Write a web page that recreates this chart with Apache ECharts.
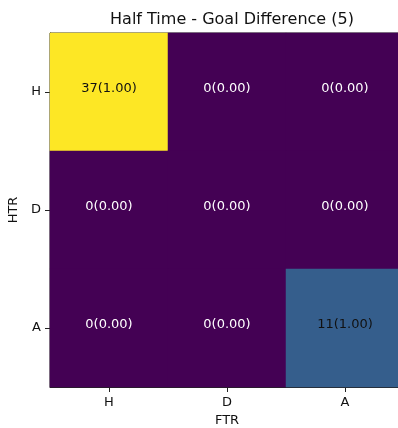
<!DOCTYPE html>
<html><head><meta charset="utf-8">
<script src="https://cdn.jsdelivr.net/npm/echarts@6/dist/echarts.min.js"></script>
<style>html,body{margin:0;padding:0;background:#fff}#c{width:398px;height:428px}</style>
</head><body><div id="c"></div>
<script>
const xCategories = ['H', 'D', 'A'];
const yCategories = ['H', 'D', 'A'];
// counts[row][col]: row = HTR, col = FTR
const counts = [
  [37, 0, 0],
  [0, 0, 0],
  [0, 0, 11]
];
const fractions = [
  [1.00, 0.00, 0.00],
  [0.00, 0.00, 0.00],
  [0.00, 0.00, 1.00]
];
const viridis = ['#440154','#482878','#3e4989','#31688e','#26828e','#1f9e89','#35b779','#6ece58','#b5de2b','#fde725'];

const data = [];
for (let r = 0; r < yCategories.length; r++) {
  for (let c = 0; c < xCategories.length; c++) {
    data.push({
      value: [c, r, counts[r][c]],
      label: { color: counts[r][c] > 37 / 4 ? '#111' : '#fff' },
      frac: fractions[r][c]
    });
  }
}
const font = 'DejaVu Sans';
const chart = echarts.init(document.getElementById('c'), null, { renderer: 'canvas' });
chart.setOption({
  animation: false,
  backgroundColor: '#fff',
  title: {
    text: 'Half Time - Goal Difference (5)',
    left: 227, top: 7, textAlign: 'center',
    textStyle: { fontFamily: font, fontSize: 16, fontWeight: 'normal', color: '#111' }
  },
  grid: { left: 50, top: 33, width: 354, height: 354, show: true, borderColor: '#222', borderWidth: 1,
          backgroundColor: 'transparent', containLabel: false, outerBoundsMode: 'none' },
  xAxis: {
    type: 'category', data: xCategories, position: 'bottom',
    name: 'FTR', nameLocation: 'middle', nameGap: 27,
    nameTextStyle: { fontFamily: font, fontSize: 13, color: '#111' },
    axisLine: { show: true, lineStyle: { color: '#222', width: 1 } },
    axisTick: { show: true, alignWithLabel: true, length: 5, lineStyle: { color: '#222' } },
    axisLabel: { fontFamily: font, fontSize: 13, color: '#111', margin: 9 },
    splitLine: { show: false }
  },
  yAxis: {
    type: 'category', data: yCategories, inverse: true,
    name: 'HTR', nameLocation: 'middle', nameGap: 26, nameRotate: 90,
    nameTextStyle: { fontFamily: font, fontSize: 13, color: '#111' },
    axisLine: { show: true, lineStyle: { color: '#222', width: 1 } },
    axisTick: { show: true, alignWithLabel: true, length: 5, lineStyle: { color: '#222' } },
    axisLabel: { fontFamily: font, fontSize: 13, color: '#111', margin: 9 },
    splitLine: { show: false }
  },
  visualMap: {
    show: false, type: 'continuous', min: 0, max: 37, dimension: 2,
    inRange: { color: viridis }
  },
  series: [{
    type: 'heatmap',
    data: data,
    itemStyle: { borderWidth: 0 },
    label: {
      show: true, fontFamily: font, fontSize: 13, offset: [0, -3],
      formatter: p => p.value[2] + '(' + p.data.frac.toFixed(2) + ')'
    }
  }]
});
</script></body></html>
